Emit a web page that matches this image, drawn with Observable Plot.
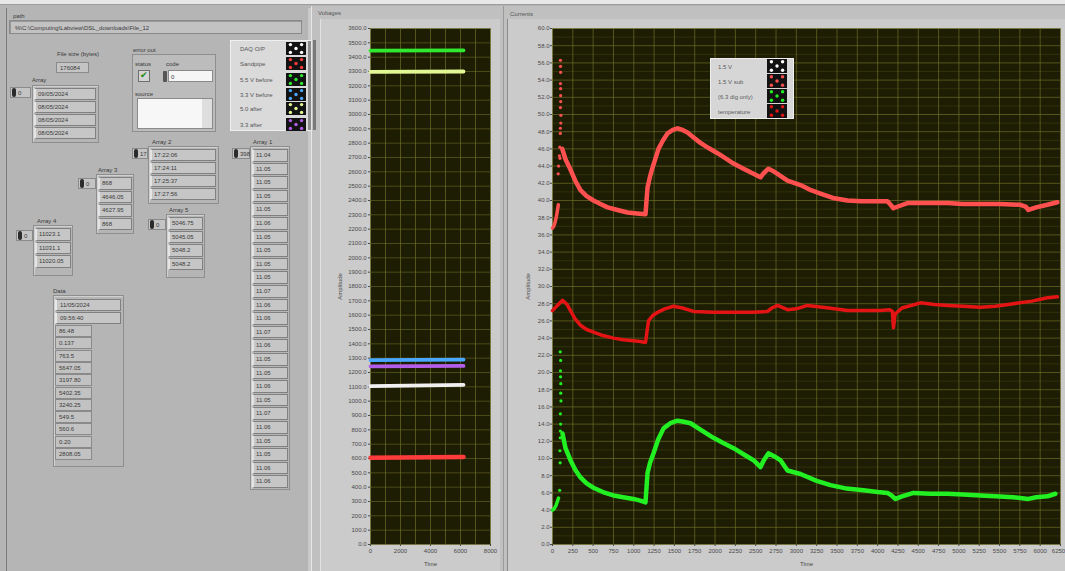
<!DOCTYPE html>
<html><head><meta charset="utf-8">
<script src="https://cdn.jsdelivr.net/npm/d3@7"></script>
<script src="https://cdn.jsdelivr.net/npm/@observablehq/plot@0.6"></script>
<style>
body{margin:0;width:1065px;height:571px;overflow:hidden;background:#b5b5b5;font-family:"Liberation Sans",Arial,sans-serif;}
#root{position:relative;width:1065px;height:571px;overflow:hidden;}
.abs{position:absolute;box-sizing:border-box;}
.t{position:absolute;font-size:6px;color:#3a3a3a;white-space:nowrap;line-height:1;}
svg{position:absolute;overflow:visible;}
</style></head><body><div id="root"></div>
<script>
// ---------------- chart data ----------------
// Voltages chart
const voltSeries = ["DAQ O/P", "Sandpipe", "5.5 V before", "3.3 V before", "5.0 after", "3.3 after"];
const voltColors = ["#f0f0f0", "#ff3c3c", "#2fe82f", "#4aa8ff", "#e2f894", "#b25ee8"];
const voltTime = [0, 6200];
const voltStart = [1105, 606, 3445, 1287, 3297, 1243];
const voltEnd = [1114, 610, 3448, 1290, 3300, 1246];
const voltXTicks = [0, 2000, 4000, 6000, 8000];
const voltXGrid = [0, 1000, 2000, 3000, 4000, 5000, 6000, 7000, 8000];
const voltYTicks = d3.range(0, 3601, 100);

// Currents chart
const curSeries = ["1.5 V", "1.5 V sub", "(6.3 dig only)", "temperature"];
const curColors = ["#ffffff", "#ff5050", "#22f022", "#e41414"];
const curXTicks = d3.range(0, 6251, 250);
const curYTicks = d3.range(0, 61, 2);
const curYMinor = d3.range(1, 60, 2);

// "1.5 V sub" (pink)
const subStartT = [0, 15, 30, 45, 60, 72];
const subStartV = [36.8, 37.0, 37.4, 38.0, 38.8, 39.5];
const subSpikeT = [98, 100, 98, 100, 98, 103, 102, 96, 90, 92, 70, 75, 85, 99, 101, 97, 100];
const subSpikeV = [56.3, 54.9, 53.6, 52.2, 50.8, 49.9, 49.0, 47.8, 46.2, 44.9, 43.1, 44.0, 45.2, 55.6, 51.5, 48.4, 53.0];
const subT = [120, 160, 221, 280, 344, 420, 504, 590, 677, 800, 923, 1040, 1144, 1169, 1200, 1230, 1304, 1360, 1415, 1480, 1538, 1600, 1661, 1740, 1820, 1920, 2030, 2130, 2227, 2350, 2473, 2559, 2600, 2657, 2700, 2768, 2891, 3051, 3180, 3297, 3450, 3629, 3800, 3950, 4121, 4160, 4195, 4250, 4367, 4600, 4859, 5050, 5265, 5500, 5757, 5820, 5855, 5950, 6089, 6212];
const subV = [46.0, 44.8, 43.6, 42.3, 41.2, 40.5, 40.0, 39.6, 39.2, 38.9, 38.6, 38.5, 38.4, 41.5, 42.8, 43.8, 46.0, 47.0, 47.8, 48.2, 48.4, 48.2, 47.9, 47.3, 46.7, 46.1, 45.5, 44.9, 44.3, 43.7, 43.1, 42.7, 43.2, 43.7, 43.5, 43.1, 42.3, 41.8, 41.2, 40.8, 40.3, 40.0, 39.9, 39.9, 39.9, 39.5, 39.1, 39.3, 39.7, 39.7, 39.7, 39.6, 39.6, 39.6, 39.5, 39.3, 38.9, 39.2, 39.5, 39.8];

// "temperature" (red)
const tempT = [0, 60, 123, 180, 221, 280, 344, 420, 504, 620, 750, 870, 996, 1080, 1144, 1181, 1230, 1292, 1380, 1488, 1600, 1734, 1980, 2227, 2450, 2645, 2700, 2768, 2891, 3000, 3137, 3400, 3629, 3850, 4034, 4150, 4182, 4195, 4215, 4300, 4527, 4700, 4859, 5050, 5265, 5450, 5671, 5900, 6089, 6212];
const tempV = [27.2, 27.8, 28.4, 27.9, 27.2, 26.2, 25.5, 25.0, 24.7, 24.3, 24.0, 23.8, 23.7, 23.6, 23.5, 26.0, 26.6, 27.0, 27.4, 27.7, 27.5, 27.1, 27.0, 27.0, 27.0, 27.1, 27.5, 27.8, 27.3, 27.4, 27.8, 27.5, 27.2, 27.2, 27.2, 27.3, 27.1, 25.2, 26.8, 27.5, 28.1, 27.9, 27.8, 27.7, 27.6, 27.7, 28.0, 28.3, 28.7, 28.8];

// "(6.3 dig only)" (green)
const digStartT = [0, 15, 30, 45, 60, 74];
const digStartV = [4.0, 4.1, 4.3, 4.6, 5.0, 5.4];
const digSpikeT = [95, 100, 98, 102, 104, 97, 100, 96, 92, 94, 88, 99, 101, 97];
const digSpikeV = [22.4, 21.4, 20.2, 18.7, 16.7, 15.2, 14.0, 12.4, 10.9, 9.5, 6.3, 19.5, 17.6, 13.2];
const digT = [123, 160, 221, 280, 344, 420, 504, 620, 750, 870, 996, 1080, 1144, 1169, 1200, 1243, 1300, 1366, 1450, 1538, 1600, 1698, 1830, 1980, 2100, 2227, 2350, 2473, 2559, 2600, 2657, 2720, 2805, 2891, 3051, 3250, 3420, 3620, 3826, 4000, 4121, 4170, 4220, 4300, 4441, 4650, 4859, 5050, 5265, 5450, 5671, 5855, 5950, 6089, 6187];
const digV = [12.9, 11.2, 9.8, 8.7, 7.8, 7.1, 6.6, 6.1, 5.7, 5.5, 5.3, 5.1, 4.9, 8.3, 9.5, 10.6, 12.2, 13.5, 14.1, 14.4, 14.3, 14.1, 13.3, 12.4, 11.8, 11.2, 10.5, 9.8, 9.0, 9.8, 10.6, 10.3, 9.8, 8.6, 8.2, 7.4, 6.9, 6.5, 6.3, 6.1, 6.0, 5.7, 5.3, 5.6, 6.0, 5.9, 5.9, 5.8, 5.7, 5.6, 5.5, 5.3, 5.5, 5.6, 5.9];

// ---------------- front-panel texts ----------------
const pathText = "%\\C:\\Computing\\Labview\\DSL_downloads\\File_12";
const fileSize = "176084";
const arrayDates = ["09/05/2024", "08/05/2024", "08/05/2024", "08/05/2024"];
const array2Times = ["17:22:06", "17:24:11", "17:25:37", "17:27:56"];
const array3Vals = ["868", "4646.05", "4627.95", "868"];
const array4Vals = ["11023.1", "11031.1", "11020.05"];
const array5Vals = ["5046.75", "5045.05", "5048.2", "5048.2"];
const array1Vals = ["11.04","11.05","11.05","11.05","11.05","11.06","11.05","11.05","11.05","11.05","11.07","11.06","11.06","11.07","11.06","11.05","11.05","11.06","11.05","11.07","11.06","11.05","11.05","11.06","11.06"];
const dataHead = ["11/05/2024", "09:56:40"];
const dataVals = ["86.48", "0.137", "763.5", "5647.05", "3197.80", "5402.35", "3240.25", "549.5", "560.6", "0.20", "2808.05"];

// ---------------- helpers ----------------
const root = document.getElementById("root");
function el(x, y, w, h, css) {
  const d = document.createElement("div"); d.className = "abs";
  Object.assign(d.style, {left: x + "px", top: y + "px", width: w + "px", height: h + "px"}, css || {});
  root.appendChild(d); return d;
}
function txt(x, y, s, css) {
  const d = document.createElement("div"); d.className = "t"; d.textContent = s;
  Object.assign(d.style, {left: x + "px", top: y + "px"}, css || {});
  root.appendChild(d); return d;
}
function swatch(x, y, w, h, color) {
  const ns = "http://www.w3.org/2000/svg";
  const s = document.createElementNS(ns, "svg");
  s.setAttribute("width", w); s.setAttribute("height", h);
  s.style.left = x + "px"; s.style.top = y + "px";
  let inner = `<rect width="${w}" height="${h}" fill="#121212"/>`;
  const cx = w / 2, cy = h / 2, dx = w * 0.28, dy = h * 0.3;
  [[0,0],[-1,-1],[1,-1],[-1,1],[1,1]].forEach(([a,b]) => {
    inner += `<circle cx="${cx + a*dx}" cy="${cy + b*dy}" r="1.7" fill="${color}"/>`;
  });
  s.innerHTML = inner; root.appendChild(s);
}
function indexCtl(x, y, w, val) {
  el(x, y, w, 11, {border: "1px solid #8a8a8a", background: "#c4c4c4"});
  el(x + 2, y + 1, 4, 9, {background: "#2b2b2b", borderRadius: "2px"});
  txt(x + 8, y + 3, val);
}
function arrayCtl(label, lx, ly, fx, fy, fw, fh, items, r0, rh, iw) {
  el(fx, fy, fw, fh, {border: "1px solid #8e8e8e", boxShadow: "inset 1px 1px 0 #d0d0d0"});
  txt(lx, ly, label);
  items.forEach((s, i) => {
    el(fx + 2, r0 + i * rh, iw, rh - 1, {border: "1px solid #808080", background: "#c6c6c6", borderLeft: "2px solid #e4e4e4"});
    txt(fx + 6, r0 + i * rh + 3, s);
  });
}

// ---------------- page chrome ----------------
el(0, 0, 1065, 4, {background: "#e8e8e8"});
el(0, 4, 1065, 1, {background: "#9c9c9c"});
el(6, 8, 1, 563, {background: "#7c7c7c"});
el(308, 8, 3, 563, {background: "#c9c9c9"});

// path
txt(13, 13, "path");
el(9, 20, 293, 14, {border: "1px solid #8a8a8a", background: "#c2c2c2", boxShadow: "inset 1px 1px 0 #999"});
txt(15, 25, pathText);

// file size
txt(57, 51, "File size (bytes)");
el(56, 62, 33, 11, {border: "1px solid #8a8a8a", background: "#c4c4c4"});
txt(60, 65, fileSize);

// Array (dates)
indexCtl(10, 87, 21, "0");
arrayCtl("Array", 32, 77, 32, 85, 67, 58, arrayDates, 88, 13, 62);

// error out
txt(133, 47, "error out");
el(132, 54, 84, 78, {border: "1px solid #8e8e8e", background: "#bcbcbc"});
txt(135, 61, "status"); txt(166, 61, "code");
el(138, 70, 12, 12, {border: "1px solid #6f6f6f", background: "#d4d4d4"});
txt(140, 71, "\u2714", {color: "#1e8a1e", fontSize: "9px"});
el(163, 71, 4, 11, {background: "#555", borderRadius: "1px"});
el(168, 70, 45, 12, {border: "1px solid #8a8a8a", background: "#f6f6f6"});
txt(171, 74, "0");
txt(135, 91, "source");
el(137, 98, 76, 31, {border: "1px solid #8a8a8a", background: "#f7f7f7"});
el(202, 99, 10, 29, {background: "#dedede"});

// voltage legend
el(230, 40, 84, 91, {background: "#dadada", border: "1px solid #efefef"});
el(308, 41, 5, 89, {background: "#8c8c8c"});
const legY = [42, 57, 73, 88, 102, 118];
voltSeries.forEach((s, i) => {
  txt(240, legY[i] + 4, s, {color: "#555"});
  swatch(286, legY[i], 20, 13, i === 0 ? "#ffffff" : voltColors[i]);
});

// Array 2 (times)
indexCtl(132, 148, 16, "17");
arrayCtl("Array 2", 152, 139, 148, 146, 71, 58, array2Times, 149, 13, 66);
// Array 3
indexCtl(78, 178, 18, "0");
arrayCtl("Array 3", 98, 167, 96, 174, 38, 60, array3Vals, 177, 13.5, 34);
// Array 4
indexCtl(16, 230, 17, "0");
arrayCtl("Array 4", 37, 218, 33, 225, 40, 51, array4Vals, 228, 13.5, 36);
// Array 5
indexCtl(148, 219, 18, "0");
arrayCtl("Array 5", 169, 207, 166, 214, 39, 64, array5Vals, 217, 13.5, 35);
// Array 1
indexCtl(232, 148, 18, "398");
arrayCtl("Array 1", 253, 139, 250, 146, 40, 344, array1Vals, 149, 13.6, 36);

// Data cluster
txt(53, 288, "Data");
el(53, 295, 71, 172, {border: "1px solid #8e8e8e", boxShadow: "inset 1px 1px 0 #d0d0d0"});
dataHead.forEach((s, i) => {
  el(55, 299 + i * 12.5, 66, 12, {border: "1px solid #808080", background: "#c6c6c6", borderLeft: "2px solid #e8e8e8"});
  txt(60, 302 + i * 12.5, s);
});
dataVals.forEach((s, i) => {
  el(55, 325 + i * 12.3, 37, 12, {border: "1px solid #8a8a8a", background: "#c2c2c2"});
  txt(59, 328 + i * 12.3, s);
});

// chart panels
el(311, 6, 192, 565, {background: "#c0c0c0", borderLeft: "1px solid #e6e6e6"});
txt(318, 10, "Voltages", {color: "#555"});
el(320, 19, 180, 552, {background: "#cbcbcb", borderLeft: "1px solid #e2e2e2"});
el(313, 40, 3, 90, {background: "#7a7a7a"});
el(503, 6, 562, 565, {background: "#c0c0c0", borderLeft: "1px solid #9a9a9a"});
txt(510, 11, "Currents", {color: "#555"});
el(507, 19, 558, 552, {background: "#cbcbcb", borderLeft: "1px solid #8a8a8a"});

// ---------------- charts ----------------
const plotBg = "#1d1d03";
const gridCol = "#7a7a2c";
const axisStyle = {background: "transparent", fontSize: "6px", fontFamily: "Liberation Sans, Arial, sans-serif", color: "#4a4a4a", overflow: "visible"};

const voltRows = voltSeries.map((s, i) => voltTime.map((t, j) => ({t, v: j === 0 ? voltStart[i] : voltEnd[i]})));

const vPlot = Plot.plot({
  width: 178, height: 549,
  marginLeft: 50, marginRight: 8, marginTop: 6, marginBottom: 27,
  style: axisStyle,
  x: {domain: [0, 8000], ticks: voltXTicks, tickFormat: d => String(d), label: "Time", labelAnchor: "center", labelArrow: "none", labelOffset: 21, tickSize: 2, tickPadding: 2},
  y: {domain: [0, 3600], ticks: voltYTicks, tickFormat: d => d.toFixed(1), label: "Amplitude", labelAnchor: "center", labelArrow: "none", labelOffset: 33, tickSize: 2, tickPadding: 2},
  marks: [
    Plot.frame({fill: plotBg}),
    Plot.ruleX(voltXGrid, {stroke: gridCol, strokeOpacity: 0.6}),
    Plot.ruleY(voltYTicks, {stroke: gridCol, strokeOpacity: 0.5}),
    ...voltRows.map((rows, i) => Plot.line(rows, {x: "t", y: "v", stroke: voltColors[i], strokeWidth: i === 1 ? 4.5 : 3.8, strokeLinecap: "round"}))
  ]
});
vPlot.style.left = "320px"; vPlot.style.top = "22px";
root.appendChild(vPlot);

const zip = (ts, vs) => ts.map((t, i) => ({t, v: vs[i]}));
const lastX = curXTicks[curXTicks.length - 1];
const cPlot = Plot.plot({
  width: 560, height: 549,
  marginLeft: 47, marginRight: 5, marginTop: 6, marginBottom: 27,
  style: axisStyle,
  x: {domain: [0, 6250], label: "Time", labelAnchor: "center", labelArrow: "none", labelOffset: 21},
  y: {domain: [0, 60], ticks: curYTicks, tickFormat: d => d.toFixed(1), label: "Amplitude", labelAnchor: "center", labelArrow: "none", labelOffset: 27, tickSize: 2, tickPadding: 1},
  marks: [
    Plot.frame({fill: plotBg}),
    Plot.ruleY(curYMinor, {stroke: gridCol, strokeOpacity: 0.22}),
    Plot.ruleX(curXTicks, {stroke: gridCol, strokeOpacity: 0.6}),
    Plot.ruleY(curYTicks, {stroke: gridCol, strokeOpacity: 0.6}),
    Plot.axisX(curXTicks, {tickSize: 2, tickPadding: 2, tickFormat: d => d === lastX ? "" : String(d), label: "Time", labelAnchor: "center", labelArrow: "none", labelOffset: 21}),
    Plot.text([lastX], {x: d => d, frameAnchor: "bottom", dy: 8, dx: -2, textAnchor: "middle", text: d => String(d), fill: "#4a4a4a"}),
    // temperature
    Plot.line(zip(tempT, tempV), {x: "t", y: "v", stroke: curColors[3], strokeWidth: 3.5, strokeLinejoin: "round"}),
    // 1.5 V sub
    Plot.line(zip(subStartT, subStartV), {x: "t", y: "v", stroke: curColors[1], strokeWidth: 3.5}),
    Plot.dot(zip(subSpikeT, subSpikeV), {x: "t", y: "v", fill: curColors[1], r: 1.6}),
    Plot.line(zip(subT, subV), {x: "t", y: "v", stroke: curColors[1], strokeWidth: 4.5, strokeLinejoin: "round"}),
    // dig only
    Plot.line(zip(digStartT, digStartV), {x: "t", y: "v", stroke: curColors[2], strokeWidth: 3.5}),
    Plot.dot(zip(digSpikeT, digSpikeV), {x: "t", y: "v", fill: curColors[2], r: 1.6}),
    Plot.line(zip(digT, digV), {x: "t", y: "v", stroke: curColors[2], strokeWidth: 4.5, strokeLinejoin: "round"})
  ]
});
cPlot.style.left = "505px"; cPlot.style.top = "22px";
root.appendChild(cPlot);

// currents legend
el(710, 58, 84, 61, {background: "#d6d6d6", border: "1px solid #efefef"});
const cLegY = [59, 74, 89, 104];
curSeries.forEach((s, i) => {
  txt(718, cLegY[i] + 5, s, {color: "#5a5a5a"});
  swatch(767, cLegY[i], 20, 14, curColors[i]);
});
</script></body></html>
